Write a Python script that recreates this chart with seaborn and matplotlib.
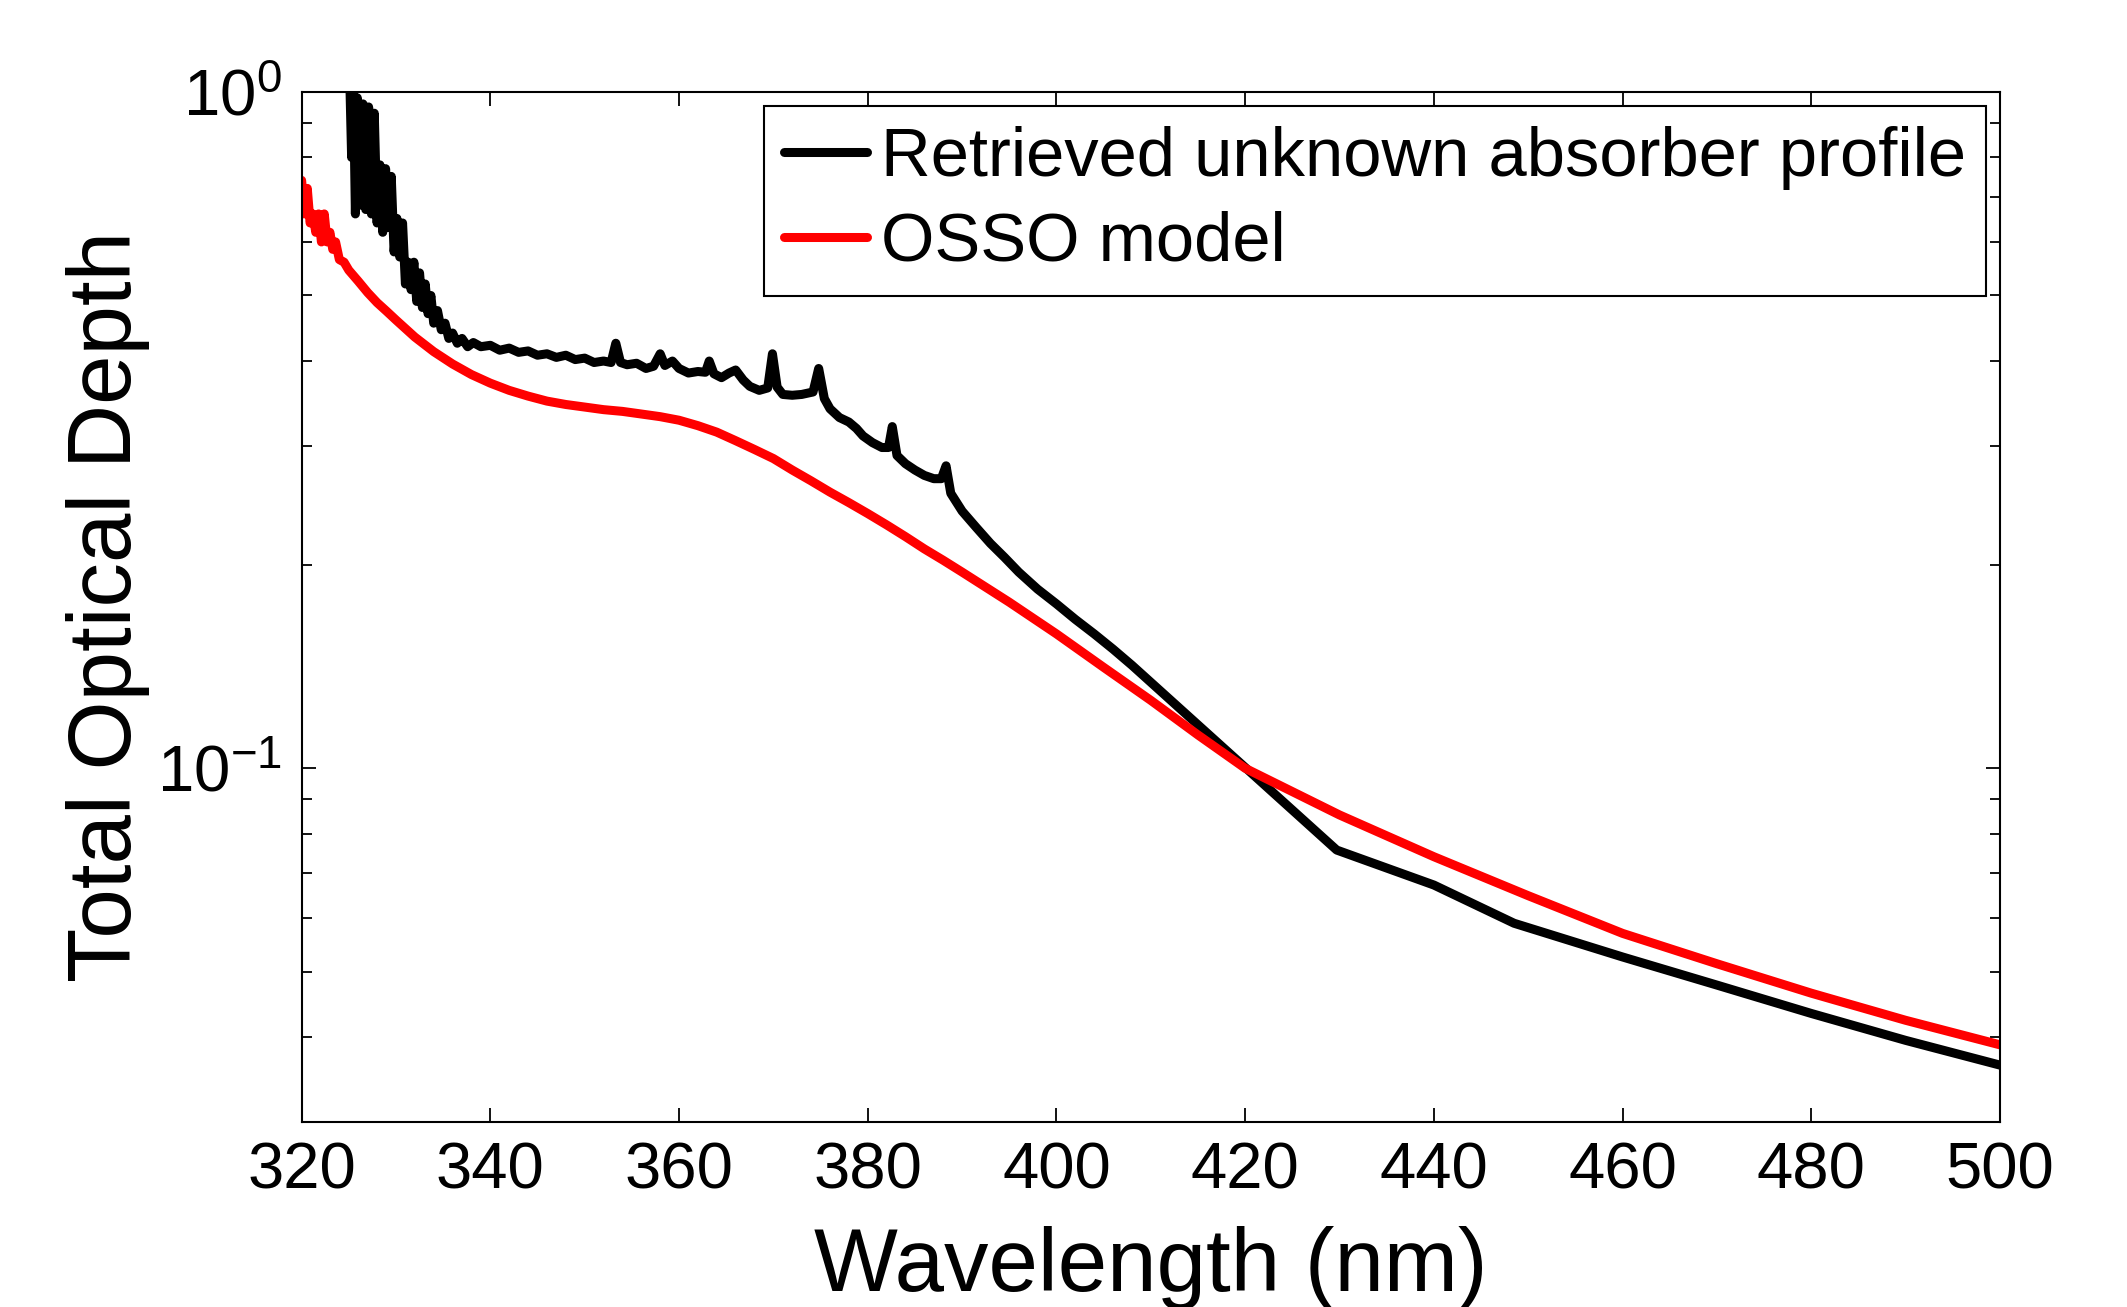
import matplotlib
matplotlib.use("Agg")
import matplotlib.pyplot as plt
import matplotlib.ticker as mticker
import numpy as np
import pandas as pd
import seaborn as sns

# retrieved unknown absorber profile (black)
black_wl = [325.1, 325.3, 325.5, 325.7, 325.9, 326.2, 326.5, 326.8, 327.1, 327.4,
            327.7, 328.0, 328.3, 328.6, 328.9, 329.2, 329.5, 329.8, 330.1, 330.4,
            330.7, 331.0, 331.3, 331.6, 331.9, 332.2, 332.5, 332.8, 333.1, 333.4,
            333.7, 334.0, 334.4, 334.8, 335.2, 335.6, 336.0, 336.5, 337.0, 337.6,
            338.2, 339.0, 340.0, 341.0, 342.0, 343.0, 344.0, 345.0, 346.0, 347.0,
            348.0, 349.0, 350.0, 351.0, 352.0, 352.8, 353.3, 353.8, 354.5, 355.5,
            356.5, 357.3, 358.0, 358.5, 359.3, 360.0, 361.0, 362.0, 362.8, 363.2,
            363.7, 364.5, 365.3, 366.0, 366.8, 367.5, 368.5, 369.4, 369.9, 370.4,
            371.0, 372.0, 373.0, 374.2, 374.8, 375.4, 376.0, 377.0, 378.0, 378.8,
            379.5, 380.5, 381.5, 382.2, 382.6, 383.1, 384.0, 385.0, 386.0, 387.0,
            387.8, 388.3, 388.8, 390.0, 391.5, 393.0, 394.5, 396.0, 398.0, 400.0,
            402.0, 404.0, 406.0, 408.0, 429.7, 440.0, 448.5, 460.0, 470.0, 480.0,
            490.0, 500.0]
black_od = [1.05, 0.80, 1.00, 0.66, 0.98, 0.68, 0.96, 0.67, 0.95, 0.66,
            0.93, 0.64, 0.78, 0.62, 0.77, 0.63, 0.75, 0.58, 0.65, 0.57,
            0.64, 0.52, 0.56, 0.51, 0.56, 0.49, 0.54, 0.48, 0.52, 0.47,
            0.50, 0.455, 0.475, 0.445, 0.455, 0.432, 0.44, 0.425, 0.432, 0.42,
            0.426, 0.420, 0.422, 0.415, 0.418, 0.412, 0.414, 0.408, 0.410, 0.405,
            0.408, 0.402, 0.404, 0.398, 0.400, 0.398, 0.425, 0.398, 0.395, 0.397,
            0.390, 0.393, 0.410, 0.394, 0.400, 0.390, 0.384, 0.386, 0.385, 0.400,
            0.383, 0.378, 0.384, 0.388, 0.375, 0.367, 0.362, 0.365, 0.410, 0.366,
            0.357, 0.356, 0.357, 0.360, 0.390, 0.352, 0.340, 0.330, 0.325, 0.318,
            0.310, 0.303, 0.298, 0.298, 0.320, 0.290, 0.282, 0.276, 0.271, 0.268,
            0.268, 0.280, 0.255, 0.240, 0.227, 0.215, 0.205, 0.195, 0.184, 0.175,
            0.166, 0.158, 0.150, 0.142, 0.0757, 0.0672, 0.0590, 0.0526, 0.0478, 0.0434,
            0.0396, 0.0364]

# OSSO model (red)
red_wl = [320.0, 320.3, 320.6, 320.9, 321.2, 321.5, 321.8, 322.1, 322.4, 322.7,
          323.0, 323.3, 323.6, 324.0, 324.5, 325.0, 326.0, 327.0, 328.0, 329.0,
          330.0, 332.0, 334.0, 336.0, 338.0, 340.0, 342.0, 344.0, 346.0, 348.0,
          350.0, 352.0, 354.0, 356.0, 358.0, 360.0, 362.0, 364.0, 366.0, 368.0,
          370.0, 372.0, 374.0, 376.0, 378.0, 380.0, 382.0, 384.0, 386.0, 388.0,
          390.0, 395.0, 400.0, 405.0, 410.0, 415.0, 420.0, 430.0, 440.0, 450.0,
          460.0, 470.0, 480.0, 490.0, 500.0]
red_od = [0.74, 0.66, 0.72, 0.64, 0.66, 0.62, 0.66, 0.60, 0.66, 0.60,
          0.62, 0.585, 0.60, 0.565, 0.56, 0.545, 0.525, 0.505, 0.488, 0.474,
          0.460, 0.434, 0.413, 0.396, 0.382, 0.371, 0.362, 0.355, 0.349, 0.345,
          0.342, 0.339, 0.337, 0.334, 0.331, 0.327, 0.321, 0.314, 0.305, 0.296,
          0.287, 0.276, 0.266, 0.256, 0.247, 0.238, 0.229, 0.220, 0.211, 0.203,
          0.195, 0.176, 0.158, 0.141, 0.126, 0.112, 0.100, 0.0853, 0.0740, 0.0648,
          0.0570, 0.0514, 0.0465, 0.0424, 0.0390]

x_ticks = [320, 340, 360, 380, 400, 420, 440, 460, 480, 500]

sns.set_style("ticks")
plt.rcParams["font.family"] = ["Liberation Sans", "DejaVu Sans"]
plt.rcParams["mathtext.fontset"] = "custom"
plt.rcParams["mathtext.rm"] = "Liberation Sans"
plt.rcParams["mathtext.it"] = "Liberation Sans:italic"
plt.rcParams["mathtext.bf"] = "Liberation Sans:bold"
plt.rcParams["text.color"] = "black"
plt.rcParams["axes.labelcolor"] = "black"
plt.rcParams["xtick.color"] = "black"
plt.rcParams["ytick.color"] = "black"

black_df = pd.DataFrame({"wl": black_wl, "od": black_od})
red_df = pd.DataFrame({"wl": red_wl, "od": red_od})

fig = plt.figure(figsize=(21.27, 13.07), dpi=100)
ax = fig.add_axes([0.1418, 0.1416, 0.7985, 0.7881])

sns.lineplot(data=black_df, x="wl", y="od", color="black", linewidth=6.5,
             estimator=None, label="Retrieved unknown absorber profile", ax=ax)
sns.lineplot(data=red_df, x="wl", y="od", color="#ff0000", linewidth=6.5,
             estimator=None, label="OSSO model", ax=ax)

ax.set_yscale("log")
ax.set_xlim(320, 500)
ax.set_ylim(0.03, 1)
ax.set_xticks(x_ticks)
ax.xaxis.set_minor_locator(mticker.NullLocator())
ax.yaxis.set_minor_formatter(mticker.NullFormatter())

for s in ax.spines.values():
    s.set_linewidth(1.5)
    s.set_color("black")

ax.tick_params(which="both", direction="in", top=True, right=True, width=1.3, color="black")
ax.tick_params(which="major", length=10, labelsize=47, pad=14)
ax.tick_params(which="minor", length=7)

ax.set_xlabel("Wavelength (nm)", fontsize=64, labelpad=18)
ax.set_ylabel("Total Optical Depth", fontsize=64, labelpad=5)

leg = ax.legend(loc="upper right", fontsize=49.5, frameon=True, fancybox=False,
                framealpha=1, edgecolor="black", borderaxespad=0.2, borderpad=0.3,
                handlelength=1.2, handletextpad=0.2, labelspacing=0.3)
leg.get_frame().set_linewidth(1.5)

fig.savefig("out.png", dpi=100)
